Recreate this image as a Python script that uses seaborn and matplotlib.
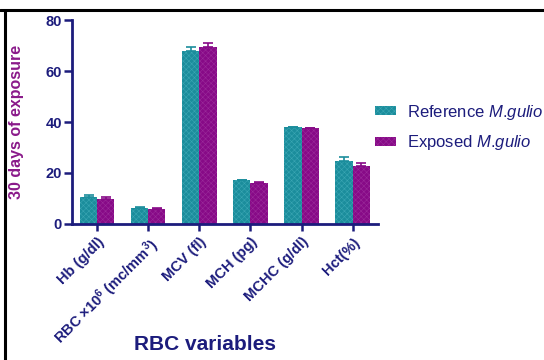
import numpy as np
import pandas as pd
import matplotlib
matplotlib.use("Agg")
import matplotlib.pyplot as plt
import seaborn as sns
from matplotlib.lines import Line2D
from matplotlib.patches import Patch

categories = ["Hb (g/dl)", "RBC ×10$^{6}$ (mc/mm$^{3}$)", "MCV (fl)", "MCH (pg)",
              "MCHC (g/dl)", "Hct(%)"]
groups = ["Reference", "Exposed"]
legend_labels = ["Reference $\\it{M}$.$\\it{gulio}$", "Exposed $\\it{M}$.$\\it{gulio}$"]
reference_mean = [10.6, 6.3, 68.0, 17.2, 37.9, 24.6]
reference_err = [0.8, 0.2, 1.3, 0.2, 0.2, 1.5]
exposed_mean = [9.9, 6.0, 69.5, 16.2, 37.5, 22.6]
exposed_err = [0.5, 0.2, 1.4, 0.2, 0.2, 1.2]
y_ticks = [0, 20, 40, 60, 80]

navy = "#1c1c7c"
teal = "#1b8d9c"
purple = "#870a87"

sns.set_style("white")
plt.rcParams["font.family"] = ["Liberation Sans", "DejaVu Sans"]
plt.rcParams["mathtext.fontset"] = "custom"
plt.rcParams["mathtext.rm"] = "Liberation Sans:bold"
plt.rcParams["mathtext.it"] = "Liberation Sans:italic"
plt.rcParams["hatch.linewidth"] = 0.4

df = pd.DataFrame({
    "variable": categories * 2,
    "group": [groups[0]] * len(categories) + [groups[1]] * len(categories),
    "value": reference_mean + exposed_mean,
})

fig = plt.figure(figsize=(5.44, 3.6), dpi=100)
ax = fig.add_axes([0.132, 0.378, 0.563, 0.566])

sns.barplot(data=df, x="variable", y="value", hue="group", order=categories,
            hue_order=groups, palette=[teal, purple], errorbar=None,
            width=0.67, gap=0, ax=ax, legend=False, saturation=1)

# subtle texture on the bars and upper error bars
shades = {0: "#3aa6b3", 1: "#9a2a9a"}
for gi, (cont, errs, col) in enumerate(zip(ax.containers, [reference_err, exposed_err],
                                           [teal, purple])):
    for bar, e in zip(cont, errs):
        bar.set_hatch("xxxxxx")
        bar.set_edgecolor(shades[gi])
        bar.set_linewidth(0)
        cx = bar.get_x() + bar.get_width() / 2
        h = bar.get_height()
        ax.errorbar([cx], [h], yerr=[[0], [e]], fmt="none", ecolor=col,
                    elinewidth=1.2, capsize=3.5, capthick=1.2, zorder=3)

ax.set_ylim(0, 80)
ax.set_xlim(-0.5, 5.5)
ax.set_yticks(y_ticks)
ax.set_yticklabels([str(t) for t in y_ticks], fontweight="bold", fontsize=10.5, color=navy)
ax.set_xticks(range(len(categories)))
ax.set_xticklabels(categories, rotation=45, ha="right", rotation_mode="anchor",
                   fontweight="bold", fontsize=10.5, color=navy)
ax.tick_params(axis="y", length=6, width=1.8, color=navy, left=True, pad=1)
ax.tick_params(axis="x", length=5, width=1.8, color=navy, bottom=True, pad=3)
for side in ["top", "right"]:
    ax.spines[side].set_visible(False)
for side in ["left", "bottom"]:
    ax.spines[side].set_color(navy)
    ax.spines[side].set_linewidth(2)
ax.set_xlabel("")
ax.set_ylabel("30 days of exposure", fontsize=11.5, fontweight="bold", color="#8a1a8a")
ax.yaxis.set_label_coords(-0.155, 0.5)

fig.text(0.376, 0.042, "RBC variables", ha="center", va="center", fontsize=15,
         fontweight="bold", color=navy)

handles = [Patch(facecolor=teal, edgecolor=shades[0], hatch="xxxxxx", linewidth=0),
           Patch(facecolor=purple, edgecolor=shades[1], hatch="xxxxxx", linewidth=0)]
fig.legend(handles, legend_labels,
           loc="center left", bbox_to_anchor=(0.689, 0.646), frameon=False,
           borderpad=0, borderaxespad=0,
           fontsize=12, labelcolor=navy, handlelength=1.3, handleheight=0.5,
           handletextpad=0.66, labelspacing=0.7)

# frame lines along the top and left edges
fig.add_artist(Line2D([0, 1], [0.972, 0.972], transform=fig.transFigure,
                      color="black", linewidth=2.2))
fig.add_artist(Line2D([0.0095, 0.0095], [0, 0.972], transform=fig.transFigure,
                      color="black", linewidth=2.2))

fig.savefig("out.png", dpi=100)
